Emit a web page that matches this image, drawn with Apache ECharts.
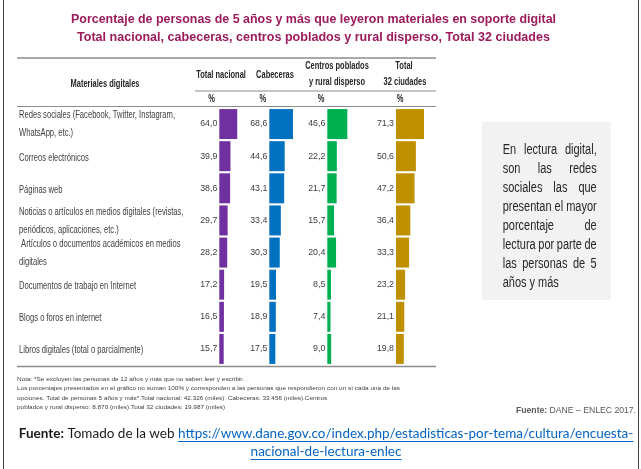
<!DOCTYPE html>
<html>
<head>
<meta charset="utf-8">
<script src="https://cdn.jsdelivr.net/npm/echarts@6/dist/echarts.min.js"></script>
<style>
  html, body { margin: 0; padding: 0; background: #fff; }
  #chart { width: 641px; height: 469px; }
</style>
</head>
<body>
<div id="chart"></div>
<script>
// datos
var materiales = [
  'Redes sociales (Facebook, Twitter, Instagram,\nWhatsApp, etc.)',
  'Correos electrónicos',
  'Páginas web',
  'Noticias o artículos en medios digitales (revistas,\nperiódicos, aplicaciones, etc.)',
  ' Artículos o documentos académicos en medios\ndigitales',
  'Documentos de trabajo en Internet',
  'Blogs o foros en internet',
  'Libros digitales (total o parcialmente)'
];
var totalNacional = [64.0, 39.9, 38.6, 29.7, 28.2, 17.2, 16.5, 15.7];
var cabeceras = [68.6, 44.6, 43.1, 33.4, 30.3, 19.5, 18.9, 17.5];
var centrosPoblados = [46.6, 22.2, 21.7, 15.7, 20.4, 8.5, 7.4, 9.0];
var total32Ciudades = [71.3, 50.6, 47.2, 36.4, 33.3, 23.2, 21.1, 19.8];

var titulo = [
  'Porcentaje de personas de 5 años y más que leyeron materiales en soporte digital',
  'Total nacional, cabeceras, centros poblados y rural disperso, Total 32 ciudades'
];
var recuadro = ['En lectura digital,', 'son las redes', 'sociales las que', 'presentan el mayor',
  'porcentaje de', 'lectura por parte de', 'las personas de 5', 'años y más'];
var notas = [
  'Nota: *Se excluyen las personas de 12 años y más que no saben leer y escribir.',
  'Los porcentajes presentados en el gráfico no suman 100% y corresponden a las personas que respondieron con un sí cada una de las',
  'opciones. Total de personas 5 años y más*.Total nacional: 42.326 (miles) .Cabeceras: 33.456 (miles).Centros',
  'poblados y rural disperso: 8.870 (miles).Total 32 ciudades: 19.987 (miles)'
];
var enlace1 = 'https://www.dane.gov.co/index.php/estadisticas-por-tema/cultura/encuesta-';
var enlace2 = 'nacional-de-lectura-enlec';

var columnas = [
  { datos: totalNacional, color: '#7030A0', left: 219.3, width: 28 },
  { datos: cabeceras, color: '#0070C0', left: 269.3, width: 34.5 },
  { datos: centrosPoblados, color: '#00B050', left: 327.3, width: 43 },
  { datos: total32Ciudades, color: '#BF9000', left: 396, width: 39.3 }
];

var SANS = 'Liberation Sans, Arial, sans-serif';
var ctx = document.createElement('canvas').getContext('2d');
function ancho(txt, font) { ctx.font = font; return ctx.measureText(txt).width; }

var myChart = echarts.init(document.getElementById('chart'));

var grids = [], xAxes = [], yAxes = [], series = [];
columnas.forEach(function (c, i) {
  grids.push({ left: c.left, width: c.width, top: 108, height: 257 });
  xAxes.push({ type: 'value', gridIndex: i, min: 0, max: 100, show: false });
  yAxes.push({ type: 'category', gridIndex: i, data: materiales, inverse: true, show: false });
  series.push({
    type: 'bar', xAxisIndex: i, yAxisIndex: i, data: c.datos,
    barWidth: 30,
    itemStyle: { color: c.color },
    label: {
      show: true, position: 'left', distance: 2,
      color: '#404040', fontFamily: SANS, fontSize: 8.8,
      formatter: function (p) { return p.value.toFixed(1).replace('.', ','); }
    }
  });
});

myChart.setOption({
  animation: false,
  backgroundColor: '#fff',
  grid: grids,
  xAxis: xAxes,
  yAxis: yAxes,
  series: series
});

var g = [];
function texto(t, x, y, font, fill, sx, align) {
  g.push({ type: 'text', x: x, y: y, scaleX: sx,
    style: { text: t, font: font, fill: fill, textAlign: align || 'left', textVerticalAlign: 'middle' } });
}

// marco
g.push({ type: 'line', shape: { x1: 3.5, y1: 0, x2: 3.5, y2: 469 }, style: { stroke: '#404040', lineWidth: 1 } });
g.push({ type: 'line', shape: { x1: 638.5, y1: 0, x2: 638.5, y2: 469 }, style: { stroke: '#404040', lineWidth: 1 } });

// titulo
var fT = 'bold 13.5px ' + SANS;
texto(titulo[0], 313.5, 19, fT, '#9B1B5C', 485 / ancho(titulo[0], fT), 'center');
texto(titulo[1], 313.5, 37, fT, '#9B1B5C', 473 / ancho(titulo[1], fT), 'center');

// lineas de la tabla
function hline(x1, x2, y, w) {
  g.push({ type: 'line', shape: { x1: x1, y1: y, x2: x2, y2: y }, style: { stroke: '#8c8c8c', lineWidth: w } });
}
hline(17, 436, 58, 1.5);
hline(195, 436, 91, 1.2);
hline(17, 436, 106.5, 1.2);
hline(17, 436, 366.5, 1.5);

// encabezados
var fH = 'bold 10.5px ' + SANS;
var sxH = 69 / ancho('Materiales digitales', fH);
var encabezados = [
  ['Materiales digitales', 105, 84],
  ['Total nacional', 221, 75],
  ['Cabeceras', 275, 75],
  ['Centros poblados', 337, 66], ['y rural disperso', 337, 82],
  ['Total', 404, 66.5], ['32 ciudades', 405, 82.5],
  ['%', 211.5, 99], ['%', 262.7, 99], ['%', 321, 99], ['%', 400, 99]
];
encabezados.forEach(function (h) { texto(h[0], h[1], h[2], fH, '#262626', sxH, 'center'); });

// etiquetas de filas, ubicadas con el eje de categorías
var fR = '10.5px ' + SANS;
var sxR = 156 / ancho('Redes sociales (Facebook, Twitter, Instagram,', fR);
materiales.forEach(function (m, i) {
  var yc = myChart.convertToPixel({ gridIndex: 0 }, [0, i])[1];
  var lineas = m.split('\n');
  if (lineas.length > 1) {
    texto(lineas[0], 19, yc - 8.5, fR, '#404040', sxR);
    texto(lineas[1], 19, yc + 9.5, fR, '#404040', sxR);
  } else {
    texto(lineas[0], 19, yc + 1.5, fR, '#404040', sxR);
  }
});

// recuadro
g.push({ type: 'rect', shape: { x: 482, y: 122, width: 129, height: 178 }, style: { fill: '#F2F2F2' } });
var fRec = '14px ' + SANS;
var sxRec = 94 / ancho('presentan el mayor', fRec);
var xIni = 502.7, xFin = 596.7;
recuadro.forEach(function (linea, i) {
  var y = 150 + i * 19;
  var palabras = linea.split(' ');
  if (i === recuadro.length - 1 || palabras.length < 2) {
    texto(linea, xIni, y, fRec, '#262626', sxRec);
    return;
  }
  var total = 0;
  palabras.forEach(function (p) { total += ancho(p, fRec) * sxRec; });
  var hueco = (xFin - xIni - total) / (palabras.length - 1);
  var x = xIni;
  palabras.forEach(function (p) {
    texto(p, x, y, fRec, '#262626', sxRec);
    x += ancho(p, fRec) * sxRec + hueco;
  });
});

// notas
var fNo = '6px ' + SANS;
var sxNo = 383 / ancho(notas[1], fNo);
notas.forEach(function (n, i) { texto(n, 17, 379 + i * 9.5, fNo, '#404040', sxNo); });

var fD = '9px ' + SANS, fDb = 'bold 9px ' + SANS;
var wD1 = ancho('Fuente:', fDb), wD2 = ancho(' DANE – ENLEC 2017.', fD);
var sxD = 120 / (wD1 + wD2);
texto('Fuente:', 636 - (wD1 + wD2) * sxD, 411, fDb, '#595959', sxD);
texto(' DANE – ENLEC 2017.', 636 - wD2 * sxD, 411, fD, '#595959', sxD);

// fuente con enlace
var fB = 'bold 13.5px Lato, sans-serif', fN = '13.5px Lato, sans-serif';
var p1 = 'Fuente:', p2 = ' Tomado de la web ';
var w1 = ancho(p1, fB), w2 = ancho(p2, fN), w3 = ancho(enlace1, fN);
var x0 = 326 - (w1 + w2 + w3) / 2;
var yF = 434;
texto(p1, x0, yF, fB, '#1a1a1a', 1);
texto(p2, x0 + w1, yF, fN, '#1a1a1a', 1);
texto(enlace1, x0 + w1 + w2, yF, fN, '#0563C1', 1);
g.push({ type: 'line', shape: { x1: x0 + w1 + w2, y1: yF + 7.5, x2: x0 + w1 + w2 + w3, y2: yF + 7.5 }, style: { stroke: '#0563C1', lineWidth: 1 } });
var w4 = ancho(enlace2, fN);
texto(enlace2, 326, yF + 18, fN, '#0563C1', 1, 'center');
g.push({ type: 'line', shape: { x1: 326 - w4 / 2, y1: yF + 25.5, x2: 326 + w4 / 2, y2: yF + 25.5 }, style: { stroke: '#0563C1', lineWidth: 1 } });

myChart.setOption({ graphic: g });
</script>
</body>
</html>
